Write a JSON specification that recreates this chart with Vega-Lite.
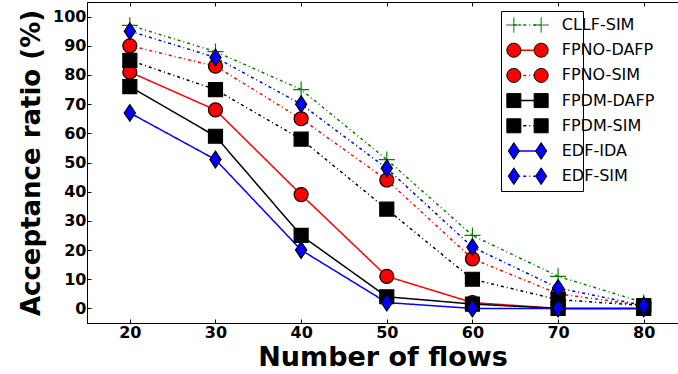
{
  "$schema": "https://vega.github.io/schema/vega-lite/v6.json",
  "width": 591,
  "height": 321,
  "autosize": {"type": "none"},
  "padding": {"left": 87, "top": 2, "right": 0, "bottom": 51},
  "background": "white",
  "config": {"view": {"stroke": "black", "strokeWidth": 1}, "font": "DejaVu Sans"},
  "data": {"values": [
    {"flows": 20, "ratio": 97, "series": "CLLF-SIM"},
    {"flows": 30, "ratio": 88, "series": "CLLF-SIM"},
    {"flows": 40, "ratio": 75, "series": "CLLF-SIM"},
    {"flows": 50, "ratio": 51, "series": "CLLF-SIM"},
    {"flows": 60, "ratio": 25, "series": "CLLF-SIM"},
    {"flows": 70, "ratio": 11, "series": "CLLF-SIM"},
    {"flows": 80, "ratio": 2, "series": "CLLF-SIM"},
    {"flows": 20, "ratio": 81, "series": "FPNO-DAFP"},
    {"flows": 30, "ratio": 68, "series": "FPNO-DAFP"},
    {"flows": 40, "ratio": 39, "series": "FPNO-DAFP"},
    {"flows": 50, "ratio": 11, "series": "FPNO-DAFP"},
    {"flows": 60, "ratio": 2, "series": "FPNO-DAFP"},
    {"flows": 70, "ratio": 0, "series": "FPNO-DAFP"},
    {"flows": 80, "ratio": 0, "series": "FPNO-DAFP"},
    {"flows": 20, "ratio": 90, "series": "FPNO-SIM"},
    {"flows": 30, "ratio": 83, "series": "FPNO-SIM"},
    {"flows": 40, "ratio": 65, "series": "FPNO-SIM"},
    {"flows": 50, "ratio": 44, "series": "FPNO-SIM"},
    {"flows": 60, "ratio": 17, "series": "FPNO-SIM"},
    {"flows": 70, "ratio": 5, "series": "FPNO-SIM"},
    {"flows": 80, "ratio": 1, "series": "FPNO-SIM"},
    {"flows": 20, "ratio": 76, "series": "FPDM-DAFP"},
    {"flows": 30, "ratio": 59, "series": "FPDM-DAFP"},
    {"flows": 40, "ratio": 25, "series": "FPDM-DAFP"},
    {"flows": 50, "ratio": 4, "series": "FPDM-DAFP"},
    {"flows": 60, "ratio": 1.5, "series": "FPDM-DAFP"},
    {"flows": 70, "ratio": 0, "series": "FPDM-DAFP"},
    {"flows": 80, "ratio": 0, "series": "FPDM-DAFP"},
    {"flows": 20, "ratio": 85, "series": "FPDM-SIM"},
    {"flows": 30, "ratio": 75, "series": "FPDM-SIM"},
    {"flows": 40, "ratio": 58, "series": "FPDM-SIM"},
    {"flows": 50, "ratio": 34, "series": "FPDM-SIM"},
    {"flows": 60, "ratio": 10, "series": "FPDM-SIM"},
    {"flows": 70, "ratio": 3, "series": "FPDM-SIM"},
    {"flows": 80, "ratio": 1, "series": "FPDM-SIM"},
    {"flows": 20, "ratio": 67, "series": "EDF-IDA"},
    {"flows": 30, "ratio": 51, "series": "EDF-IDA"},
    {"flows": 40, "ratio": 20, "series": "EDF-IDA"},
    {"flows": 50, "ratio": 2, "series": "EDF-IDA"},
    {"flows": 60, "ratio": 0, "series": "EDF-IDA"},
    {"flows": 70, "ratio": 0, "series": "EDF-IDA"},
    {"flows": 80, "ratio": 0, "series": "EDF-IDA"},
    {"flows": 20, "ratio": 95, "series": "EDF-SIM"},
    {"flows": 30, "ratio": 86, "series": "EDF-SIM"},
    {"flows": 40, "ratio": 70, "series": "EDF-SIM"},
    {"flows": 50, "ratio": 48, "series": "EDF-SIM"},
    {"flows": 60, "ratio": 21, "series": "EDF-SIM"},
    {"flows": 70, "ratio": 7, "series": "EDF-SIM"},
    {"flows": 80, "ratio": 1, "series": "EDF-SIM"}
  ]},
  "encoding": {
    "x": {"field": "flows", "type": "quantitative", "scale": {"domain": [15, 84], "nice": false, "zero": false},
      "axis": {"values": [20, 30, 40, 50, 60, 70, 80], "title": "Number of flows", "titleFontSize": 27, "titleFontWeight": "bold", "titleFont": "DejaVu Sans", "titleColor": "black", "titlePadding": 4,
        "labelFontSize": 16, "labelFontWeight": "bold", "labelFont": "DejaVu Sans", "labelColor": "black", "labelPadding": 5, "labelFlush": false,
        "grid": false, "tickSize": -4, "tickColor": "black", "domainColor": "black", "domainWidth": 1}},
    "y": {"field": "ratio", "type": "quantitative", "scale": {"domain": [-5, 105], "nice": false, "zero": false},
      "axis": {"values": [0, 10, 20, 30, 40, 50, 60, 70, 80, 90, 100], "title": "Acceptance ratio (%)", "titleFontSize": 26, "titleFontWeight": "bold", "titleFont": "DejaVu Sans", "titleColor": "black", "titlePadding": 8,
        "labelFontSize": 16, "labelFontWeight": "bold", "labelFont": "DejaVu Sans", "labelColor": "black", "labelPadding": 5,
        "grid": false, "tickSize": -4, "tickColor": "black", "domainColor": "black", "domainWidth": 1}}
  },
  "layer": [
    {
      "mark": {"type": "line", "strokeWidth": 1.5},
      "encoding": {
        "color": {"field": "series", "type": "nominal",
          "scale": {"domain": ["CLLF-SIM", "FPNO-DAFP", "FPNO-SIM", "FPDM-DAFP", "FPDM-SIM", "EDF-IDA", "EDF-SIM"],
                    "range": ["#008000", "#ff0000", "#ff0000", "#000000", "#000000", "#0000ff", "#0000ff"]},
          "legend": {"orient": "none", "legendX": 414, "legendY": 9, "title": null, "padding": 4, "clipHeight": 20, "rowPadding": 5.2,
            "symbolType": "stroke", "symbolSize": 784, "symbolStrokeWidth": 1.5, "symbolOffset": 7.25, "labelOffset": 19.5,
            "labelFontSize": 16, "labelFont": "DejaVu Sans", "labelColor": "black", "fillColor": "white", "zindex": 1}},
        "strokeDash": {"field": "series", "type": "nominal",
          "scale": {"domain": ["CLLF-SIM", "FPNO-DAFP", "FPNO-SIM", "FPDM-DAFP", "FPDM-SIM", "EDF-IDA", "EDF-SIM"],
                    "range": [[3, 3, 1, 3], [1, 0], [3, 3, 1, 3], [1, 0], [3, 3, 1, 3], [1, 0], [3, 3, 1, 3]]},
          "legend": {"orient": "none", "legendX": 414, "legendY": 9, "title": null, "padding": 4, "clipHeight": 20, "rowPadding": 5.2,
            "symbolType": "stroke", "symbolSize": 784, "symbolStrokeWidth": 1.5, "symbolOffset": 7.25, "labelOffset": 19.5,
            "labelFontSize": 16, "labelFont": "DejaVu Sans", "labelColor": "black", "fillColor": "white", "zindex": 1}}
      }
    },
    {
      "mark": {"type": "point", "filled": true, "size": 196, "strokeWidth": 1.2, "opacity": 1},
      "encoding": {
        "x": {"field": "flows", "type": "quantitative", "scale": {"domain": [15, 84], "nice": false, "zero": false},
          "axis": {"orient": "top", "values": [20, 30, 40, 50, 60, 70, 80], "title": null, "labels": false, "domain": false, "grid": false, "tickSize": -4, "tickColor": "black"}},
        "shape": {"field": "series", "type": "nominal", "legend": null,
          "scale": {"domain": ["CLLF-SIM", "FPNO-DAFP", "FPNO-SIM", "FPDM-DAFP", "FPDM-SIM", "EDF-IDA", "EDF-SIM"],
                    "range": ["M-1.15,0H1.15M0,-1.15V1.15", "M-1,0A1,1,0,1,1,1,0A1,1,0,1,1,-1,0Z", "M-1,0A1,1,0,1,1,1,0A1,1,0,1,1,-1,0Z", "M-1,-1H1V1H-1Z", "M-1,-1H1V1H-1Z", "M0,-1.2L0.8,0L0,1.2L-0.8,0Z", "M0,-1.2L0.8,0L0,1.2L-0.8,0Z"]}},
        "fill": {"field": "series", "type": "nominal", "legend": null,
          "scale": {"domain": ["CLLF-SIM", "FPNO-DAFP", "FPNO-SIM", "FPDM-DAFP", "FPDM-SIM", "EDF-IDA", "EDF-SIM"],
                    "range": ["#008000", "#ff0000", "#ff0000", "#000000", "#000000", "#0000ff", "#0000ff"]}},
        "stroke": {"field": "series", "type": "nominal", "legend": null,
          "scale": {"domain": ["CLLF-SIM", "FPNO-DAFP", "FPNO-SIM", "FPDM-DAFP", "FPDM-SIM", "EDF-IDA", "EDF-SIM"],
                    "range": ["#008000", "#000000", "#000000", "#000000", "#000000", "#000000", "#000000"]}}
      }
    },
    {
      "mark": {"type": "point", "filled": true, "size": 196, "strokeWidth": 1, "opacity": 0},
      "encoding": {
        "x": {"field": "flows", "type": "quantitative", "scale": {"domain": [15, 84], "nice": false, "zero": false}, "axis": null},
        "shape": {"field": "series", "type": "nominal", "sort": null,
          "scale": {"range": ["M-3.05,0H-0.85M-1.95,-1.1V1.1M0.85,0H3.05M1.95,-1.1V1.1M20.6,0", "M-2.95,0A1,1,0,1,1,-0.95,0A1,1,0,1,1,-2.95,0ZM0.95,0A1,1,0,1,1,2.95,0A1,1,0,1,1,0.95,0Z", "M-2.95,0A1,1,0,1,1,-0.95,0A1,1,0,1,1,-2.95,0ZM0.95,0A1,1,0,1,1,2.95,0A1,1,0,1,1,0.95,0Z", "M-2.95,-1H-0.95V1H-2.95ZM0.95,-1H2.95V1H0.95Z", "M-2.95,-1H-0.95V1H-2.95ZM0.95,-1H2.95V1H0.95Z", "M-1.95,-1.2L-1.15,0L-1.95,1.2L-2.75,0ZM1.95,-1.2L2.75,0L1.95,1.2L1.15,0Z", "M-1.95,-1.2L-1.15,0L-1.95,1.2L-2.75,0ZM1.95,-1.2L2.75,0L1.95,1.2L1.15,0Z"]},
          "legend": {"orient": "none", "legendX": 414, "legendY": 9, "title": null, "padding": 4, "clipHeight": 20, "rowPadding": 5.2,
            "symbolSize": 196, "symbolStrokeWidth": 1, "symbolOffset": 14.5, "labelOffset": 43, "symbolOpacity": 1,
            "labelExpr": "''", "labelFontSize": 16, "strokeColor": "black", "zindex": 2}},
        "fill": {"field": "series", "type": "nominal", "sort": null,
          "scale": {"range": ["#008000", "#ff0000", "#ff0000", "#000000", "#000000", "#0000ff", "#0000ff"]},
          "legend": {"orient": "none", "legendX": 414, "legendY": 9, "title": null, "padding": 4, "clipHeight": 20, "rowPadding": 5.2,
            "symbolSize": 196, "symbolStrokeWidth": 1, "symbolOffset": 14.5, "labelOffset": 43, "symbolOpacity": 1,
            "labelExpr": "''", "labelFontSize": 16, "strokeColor": "black", "zindex": 2}},
        "stroke": {"field": "series", "type": "nominal", "sort": null,
          "scale": {"range": ["#008000", "#000000", "#000000", "#000000", "#000000", "#000000", "#000000"]},
          "legend": {"orient": "none", "legendX": 414, "legendY": 9, "title": null, "padding": 4, "clipHeight": 20, "rowPadding": 5.2,
            "symbolSize": 196, "symbolStrokeWidth": 1, "symbolOffset": 14.5, "labelOffset": 43, "symbolOpacity": 1,
            "labelExpr": "''", "labelFontSize": 16, "strokeColor": "black", "zindex": 2}}
      }
    }
  ],
  "resolve": {"scale": {"shape": "independent", "fill": "independent", "stroke": "independent"}, "axis": {"x": "independent"}}
}
